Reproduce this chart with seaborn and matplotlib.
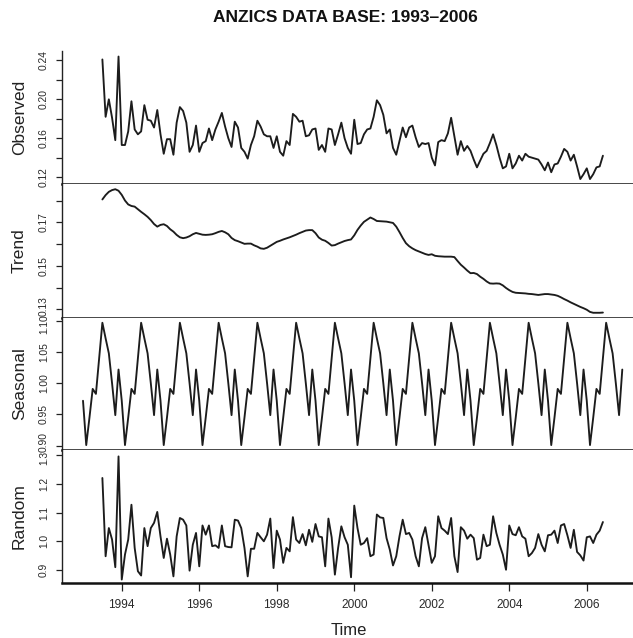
import numpy as np
import matplotlib
matplotlib.use("Agg")
import matplotlib.pyplot as plt
import matplotlib.transforms as mtransforms
import seaborn as sns

# Monthly ICU series, July 1993 - June 2006 (observed, trend, random)
start_obs = 1993.5
observed = [
    0.241, 0.182, 0.200, 0.181, 0.158, 0.244,
    0.153, 0.153, 0.167, 0.198, 0.169, 0.164, 0.167, 0.194, 0.179, 0.178, 0.171, 0.189,
    0.164, 0.144, 0.159, 0.159, 0.143, 0.176, 0.192, 0.188, 0.176, 0.146, 0.153, 0.173,
    0.146, 0.155, 0.157, 0.170, 0.158, 0.169, 0.177, 0.186, 0.172, 0.160, 0.151, 0.177,
    0.171, 0.150, 0.146, 0.139, 0.153, 0.162, 0.178, 0.172, 0.164, 0.162, 0.162, 0.150,
    0.162, 0.146, 0.142, 0.157, 0.153, 0.185, 0.182, 0.177, 0.178, 0.162, 0.163, 0.169,
    0.170, 0.148, 0.153, 0.146, 0.170, 0.169, 0.153, 0.164, 0.176, 0.160, 0.150, 0.144,
    0.179, 0.154, 0.155, 0.164, 0.169, 0.170, 0.182, 0.199, 0.194, 0.184, 0.165, 0.169,
    0.150, 0.143, 0.157, 0.171, 0.161, 0.171, 0.173, 0.161, 0.151, 0.155, 0.154, 0.155,
    0.140, 0.132, 0.156, 0.158, 0.157, 0.165, 0.181, 0.162, 0.143, 0.157, 0.147, 0.152,
    0.147, 0.138, 0.130, 0.137, 0.144, 0.147, 0.155, 0.164, 0.153, 0.140, 0.129, 0.131,
    0.144, 0.129, 0.134, 0.142, 0.137, 0.144, 0.141, 0.140, 0.139, 0.138, 0.133, 0.127,
    0.135, 0.125, 0.133, 0.134, 0.141, 0.149, 0.146, 0.137, 0.143, 0.131, 0.118, 0.123,
    0.129, 0.118, 0.123, 0.130, 0.131, 0.142,
]

trend = [
    0.1805, 0.1825, 0.1840, 0.1848, 0.1852, 0.1845,
    0.1826, 0.1800, 0.1782, 0.1775, 0.1772, 0.1760, 0.1748, 0.1737, 0.1725, 0.1710, 0.1692, 0.1680,
    0.1688, 0.1691, 0.1683, 0.1668, 0.1657, 0.1642, 0.1631, 0.1627, 0.1630, 0.1636, 0.1645, 0.1651,
    0.1647, 0.1643, 0.1642, 0.1643, 0.1645, 0.1650, 0.1656, 0.1660, 0.1654, 0.1645, 0.1628, 0.1618,
    0.1613, 0.1607, 0.1601, 0.1602, 0.1602, 0.1594, 0.1588, 0.1580, 0.1578, 0.1583, 0.1592, 0.1601,
    0.1610, 0.1615, 0.1621, 0.1626, 0.1631, 0.1637, 0.1643, 0.1650, 0.1656, 0.1662, 0.1664, 0.1664,
    0.1650, 0.1630, 0.1620, 0.1615, 0.1605, 0.1593, 0.1595, 0.1602, 0.1608, 0.1614, 0.1618, 0.1621,
    0.1640, 0.1665, 0.1685, 0.1702, 0.1712, 0.1722, 0.1715, 0.1706, 0.1705, 0.1704, 0.1703, 0.1700,
    0.1697, 0.1680, 0.1655, 0.1628, 0.1604, 0.1590, 0.1580, 0.1572, 0.1566, 0.1560, 0.1554, 0.1550,
    0.1553, 0.1546, 0.1544, 0.1543, 0.1542, 0.1542, 0.1542, 0.1540, 0.1522, 0.1505, 0.1492, 0.1478,
    0.1466, 0.1467, 0.1462, 0.1450, 0.1440, 0.1428, 0.1419, 0.1418, 0.1419, 0.1418, 0.1410, 0.1398,
    0.1388, 0.1380, 0.1376, 0.1375, 0.1374, 0.1373, 0.1371, 0.1370, 0.1368, 0.1366, 0.1368, 0.1370,
    0.1370, 0.1368, 0.1366, 0.1362, 0.1355, 0.1347, 0.1340, 0.1332, 0.1325, 0.1318, 0.1311, 0.1305,
    0.1298, 0.1288, 0.1284, 0.1284, 0.1284, 0.1285,
]

random_part = [
    1.220, 0.948, 1.046, 1.006, 0.910, 1.295,
    0.867, 0.954, 1.006, 1.127, 0.977, 0.896, 0.881, 1.046, 0.983, 1.046, 1.064, 1.102,
    1.017, 0.942, 1.009, 0.954, 0.878, 1.017, 1.081, 1.075, 1.055, 0.898, 0.988, 1.029,
    0.913, 1.055, 1.023, 1.055, 0.983, 0.986, 0.977, 1.055, 0.983, 0.980, 0.979, 1.075,
    1.072, 1.046, 0.977, 0.878, 0.974, 0.974, 1.029, 1.014, 1.000, 1.023, 1.079, 0.907,
    1.037, 1.006, 0.925, 0.977, 0.965, 1.084, 1.006, 0.994, 1.025, 0.986, 1.040, 0.998,
    1.060, 1.017, 1.014, 0.913, 1.079, 1.014, 0.884, 0.977, 1.052, 1.014, 0.988, 0.875,
    1.124, 1.046, 0.988, 0.994, 1.011, 0.948, 0.954, 1.093, 1.083, 1.081, 1.011, 0.971,
    0.916, 0.948, 1.017, 1.075, 1.025, 1.029, 1.006, 0.948, 0.913, 1.011, 1.049, 0.988,
    0.925, 0.948, 1.087, 1.046, 1.037, 1.025, 1.081, 0.948, 0.893, 1.049, 1.037, 1.009,
    1.023, 1.011, 0.936, 0.942, 1.023, 0.983, 0.988, 1.087, 1.029, 0.988, 0.954, 0.901,
    1.055, 1.025, 1.021, 1.049, 1.017, 1.009, 0.948, 0.959, 0.977, 1.025, 0.988, 0.965,
    1.021, 1.023, 1.037, 0.994, 1.055, 1.060, 1.021, 0.977, 1.040, 0.963, 0.951, 0.933,
    1.014, 1.017, 0.994, 1.023, 1.037, 1.067,
]

# Seasonal factors Jan..Dec, repeated for every year 1993-2006
start_season = 1993.0
seasonal_months = [0.972, 0.901, 0.945, 0.991, 0.983, 1.040,
                   1.097, 1.072, 1.048, 1.000, 0.949, 1.022]
n_years = 14

panel_names = ["Observed", "Trend", "Seasonal", "Random"]
year_ticks = [1994, 1996, 1998, 2000, 2002, 2004, 2006]
title_text = "ANZICS DATA BASE: 1993\u20132006"

t_obs = start_obs + np.arange(len(observed)) / 12.0
seasonal = np.tile(seasonal_months, n_years)
t_season = start_season + np.arange(len(seasonal)) / 12.0

series = [
    (t_obs, np.array(observed)),
    (t_obs, np.array(trend)),
    (t_season, seasonal),
    (t_obs, np.array(random_part)),
]

ytick_spec = [
    ([0.12, 0.14, 0.16, 0.18, 0.20, 0.22, 0.24],
     ["0.12", "", "0.16", "", "0.20", "", "0.24"], (0.1129, 0.2497)),
    ([0.13, 0.14, 0.15, 0.16, 0.17, 0.18],
     ["0.13", "", "0.15", "", "0.17", ""], (0.1260, 0.1876)),
    ([0.90, 0.95, 1.00, 1.05, 1.10],
     ["0.90", "0.95", "1.00", "1.05", "1.10"], (0.8931, 1.1046)),
    ([0.9, 1.0, 1.1, 1.2, 1.3],
     ["0.9", "1.0", "1.1", "1.2", "1.3"], (0.855, 1.3173)),
]

# small vertical nudges (points) for labels that sit on a panel boundary
edge_nudge = {(1, 0): 2.4, (2, 4): -2.4, (2, 0): 2.4, (3, 4): -2.4}

sns.set_theme(style="white")
plt.rcParams["font.family"] = ["Liberation Sans", "DejaVu Sans"]

W, H = 633, 638
fig = plt.figure(figsize=(W / 100, H / 100), dpi=100)
fig.patch.set_facecolor("white")

# panel edges in pixels from the top of the canvas
edges = [51, 184, 318, 450, 583]
left_px, right_px = 62, 644
line_col = "#1c1c1c"

axes = []
for k in range(4):
    top, bot = edges[k], edges[k + 1]
    ax = fig.add_axes([left_px / W, 1 - bot / H, (right_px - left_px) / W, (bot - top) / H])
    t, v = series[k]
    sns.lineplot(x=t, y=v, ax=ax, color=line_col, linewidth=1.35, estimator=None)
    ax.set_xlim(1992.458, 2007.477)
    ticks, labels, lim = ytick_spec[k]
    ax.set_ylim(*lim)
    ax.set_yticks(ticks)
    ax.set_yticklabels(labels)
    ax.tick_params(axis="y", left=True, length=4.3, width=0.9, color="#222222",
                   labelrotation=90, pad=5.0, labelsize=7.4, labelcolor="#2a2a2a")
    for j, lab in enumerate(ax.get_yticklabels()):
        lab.set_va("center")
        if (k, j) in edge_nudge:
            shift = mtransforms.ScaledTranslation(0, edge_nudge[(k, j)] / 72, fig.dpi_scale_trans)
            lab.set_transform(lab.get_transform() + shift)
    ax.set_ylabel(panel_names[k], fontsize=12.5, color="#222222")
    ax.yaxis.set_label_coords(-0.060, 0.5)
    ax.set_xlabel("")
    for side in ["top", "right"]:
        ax.spines[side].set_visible(False)
    ax.spines["left"].set_linewidth(1.0)
    ax.spines["left"].set_color("#222222")
    ax.spines["bottom"].set_linewidth(1.8)
    ax.spines["bottom"].set_color("#111111")
    ax.set_facecolor("white")
    ax.grid(False)
    if k < 3:
        ax.tick_params(axis="x", bottom=False, labelbottom=False)
    axes.append(ax)

axb = axes[-1]
axb.set_xticks(year_ticks)
axb.set_xticklabels([str(y) for y in year_ticks])
axb.tick_params(axis="x", bottom=True, length=5.5, width=0.9, color="#222222",
                pad=6.0, labelsize=8.6, labelcolor="#2a2a2a")
axb.set_xlabel("Time", fontsize=12, color="#222222")
axb.xaxis.set_label_coords(0.493, -0.30)

fig.text(345 / W, 1 - 18 / H, title_text, ha="center", va="center",
         fontsize=12.5, fontweight="bold", color="#111111")

fig.savefig("out.png", dpi=100, facecolor="white")
